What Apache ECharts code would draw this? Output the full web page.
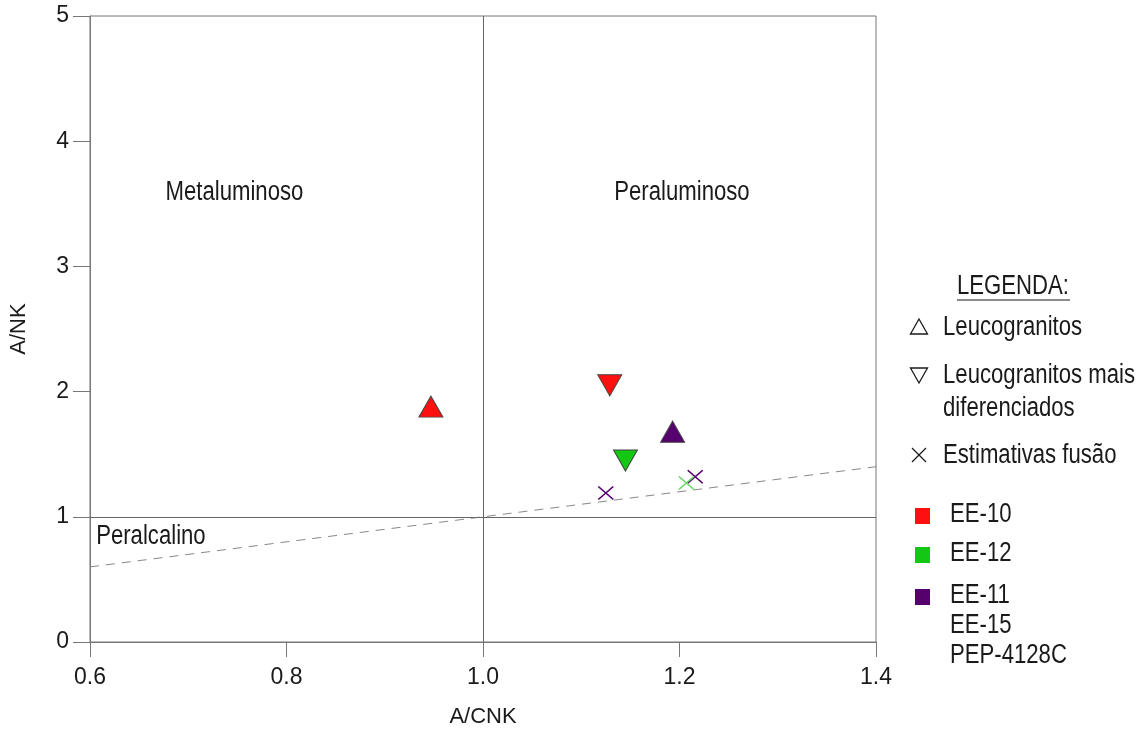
<!DOCTYPE html>
<html>
<head>
<meta charset="utf-8">
<script src="https://cdn.jsdelivr.net/npm/echarts@6/dist/echarts.min.js"></script>
<style>html,body{margin:0;padding:0;background:#fff}#c{width:1146px;height:742px}</style>
</head>
<body>
<div id="c"></div>
<script>
// ---- data ----
const xTicks = [0.6, 0.8, 1.0, 1.2, 1.4];
const yTicks = [0, 1, 2, 3, 4, 5];
const leucograniteEE10 = [[0.947, 1.88]];
const leucograniteEE11 = [[1.193, 1.68]];
const differentiatedEE10 = [[1.129, 2.05]];
const differentiatedEE12 = [[1.145, 1.45]];
const fusionEE11 = [[1.125, 1.19], [1.216, 1.32]];
const fusionEE12 = [[1.207, 1.27]];
const dashedBoundary = [[0.6, 0.6], [1.4, 1.4]];
const dividerX = [1.0];
const dividerY = [1];
const regionNames = ['Metaluminoso', 'Peraluminoso', 'Peralcalino'];
const regionX = [0.747, 1.2025, 0.662];
const regionY = [3.59, 3.59, 0.84];
const legendTitle = 'LEGENDA:';
const shapeLabels = ['Leucogranitos', 'Leucogranitos mais\ndiferenciados', 'Estimativas fusão'];
const sampleLabels = ['EE-10', 'EE-12', 'EE-11\nEE-15\nPEP-4128C'];

// ---- styles ----
const FONT = "'Liberation Sans',Arial,sans-serif";
const TXT = '#1a1a1a';
const AX = '#777';
const RED = '#ff1010';
const GREEN = '#12c812';
const PURPLE = '#55006e';
const FS = 27;        // narrow-look text size (scaled horizontally)
const NARROW = 0.82;
const TFS = 23;       // tick label size
const XPATH = 'path://M0,0L10,10M10,0L0,10';

const chart = echarts.init(document.getElementById('c'), null, {renderer: 'canvas'});

function tri(name, data, color, down) {
  return {
    type: 'scatter', name: name, data: data, symbol: 'triangle',
    symbolSize: [24, 21], symbolRotate: down ? 180 : 0,
    itemStyle: {color: color, borderColor: '#444', borderWidth: 1, opacity: 1},
    z: 5
  };
}
function cross(name, data, color) {
  return {
    type: 'scatter', name: name, data: data, symbol: XPATH, symbolSize: [15, 13],
    itemStyle: {color: 'none', borderColor: color, borderWidth: 1.5, opacity: 1},
    z: 5
  };
}
function ntext(x, y, text, align, vAlign, lineHeight) {
  return {
    type: 'text', x: x, y: y, scaleX: NARROW, scaleY: 1, z: 10,
    style: {text: text, x: 0, y: 0, font: FS + 'px ' + FONT, fill: TXT,
      textAlign: align, textVerticalAlign: vAlign, lineHeight: lineHeight || FS}
  };
}

const option = {
  backgroundColor: '#fff',
  animation: false,
  grid: {left: 90, top: 16, right: 270, bottom: 100, show: true, borderColor: AX, borderWidth: 1, backgroundColor: 'transparent'},
  xAxis: {
    type: 'value', min: xTicks[0], max: xTicks[xTicks.length - 1], interval: 0.2,
    name: 'A/CNK', nameLocation: 'middle', nameGap: 64,
    nameTextStyle: {fontFamily: FONT, fontSize: 22, color: TXT},
    axisLine: {show: true, onZero: false, lineStyle: {color: AX, width: 1}},
    axisTick: {show: true, length: 15, lineStyle: {color: AX}},
    axisLabel: {margin: 24, fontFamily: FONT, fontSize: TFS, color: TXT, formatter: function (v) { return v.toFixed(1); }},
    splitLine: {show: false}
  },
  yAxis: {
    type: 'value', min: yTicks[0], max: yTicks[yTicks.length - 1], interval: 1,
    name: 'A/NK', nameLocation: 'middle', nameGap: 60,
    nameTextStyle: {fontFamily: FONT, fontSize: 22, color: TXT},
    axisLine: {show: true, onZero: false, lineStyle: {color: AX, width: 1}},
    axisTick: {show: true, length: 17, lineStyle: {color: AX}},
    axisLabel: {margin: 21, fontFamily: FONT, fontSize: TFS, color: TXT},
    splitLine: {show: false}
  },
  series: [
    {
      type: 'line', name: 'boundary', data: dashedBoundary, symbol: 'none',
      lineStyle: {color: '#888', width: 1, type: [9, 7]}, z: 2,
      markLine: {
        silent: true, symbol: 'none', label: {show: false},
        lineStyle: {color: '#666', width: 1, type: 'solid'},
        data: dividerX.map(function (v) { return {xAxis: v}; }).concat(dividerY.map(function (v) { return {yAxis: v}; }))
      }
    },
    tri('Leucogranitos EE-10', leucograniteEE10, RED, false),
    tri('Leucogranitos EE-11', leucograniteEE11, PURPLE, false),
    tri('Diferenciados EE-10', differentiatedEE10, RED, true),
    tri('Diferenciados EE-12', differentiatedEE12, GREEN, true),
    cross('Fusão EE-11', fusionEE11, PURPLE),
    cross('Fusão EE-12', fusionEE12, '#6ad86a')
  ]
};
chart.setOption(option);

// ---- text overlays (region names positioned through the axes' scales) and legend ----
const graphics = [];
regionNames.forEach(function (n, i) {
  const p = chart.convertToPixel({gridIndex: 0}, [regionX[i], regionY[i]]);
  graphics.push(ntext(p[0], p[1], n, 'center', 'middle'));
});
const legendX = 919, textX = 943, sampleTextX = 950;
const shapeY = [327, 375, 455];
const sampleY = [516, 555, 597];
graphics.push(ntext(1013, 287, legendTitle, 'center', 'middle'));
graphics.push({type: 'line', shape: {x1: 957, y1: 300, x2: 1070, y2: 300}, style: {stroke: TXT, lineWidth: 1}});
graphics.push({type: 'polygon', shape: {points: [[legendX, shapeY[0] - 8], [legendX - 8.5, shapeY[0] + 7], [legendX + 8.5, shapeY[0] + 7]]}, style: {fill: 'none', stroke: TXT, lineWidth: 1.3}});
graphics.push({type: 'polygon', shape: {points: [[legendX, shapeY[1] + 8], [legendX - 8.5, shapeY[1] - 7], [legendX + 8.5, shapeY[1] - 7]]}, style: {fill: 'none', stroke: TXT, lineWidth: 1.3}});
graphics.push({type: 'polyline', shape: {points: [[legendX - 7, shapeY[2] - 7], [legendX + 7, shapeY[2] + 7]]}, style: {stroke: TXT, lineWidth: 1.3}});
graphics.push({type: 'polyline', shape: {points: [[legendX + 7, shapeY[2] - 7], [legendX - 7, shapeY[2] + 7]]}, style: {stroke: TXT, lineWidth: 1.3}});
shapeLabels.forEach(function (t, i) {
  graphics.push(ntext(textX, shapeY[i] - 16, t, 'left', 'top', 33));
});
const sampleColors = [RED, GREEN, PURPLE];
sampleLabels.forEach(function (t, i) {
  graphics.push({type: 'rect', shape: {x: 915, y: sampleY[i] - 8, width: 15, height: 16}, style: {fill: sampleColors[i]}});
  graphics.push(ntext(sampleTextX, sampleY[i] - 16, t, 'left', 'top', 30));
});
chart.setOption({graphic: graphics});
</script>
</body>
</html>
